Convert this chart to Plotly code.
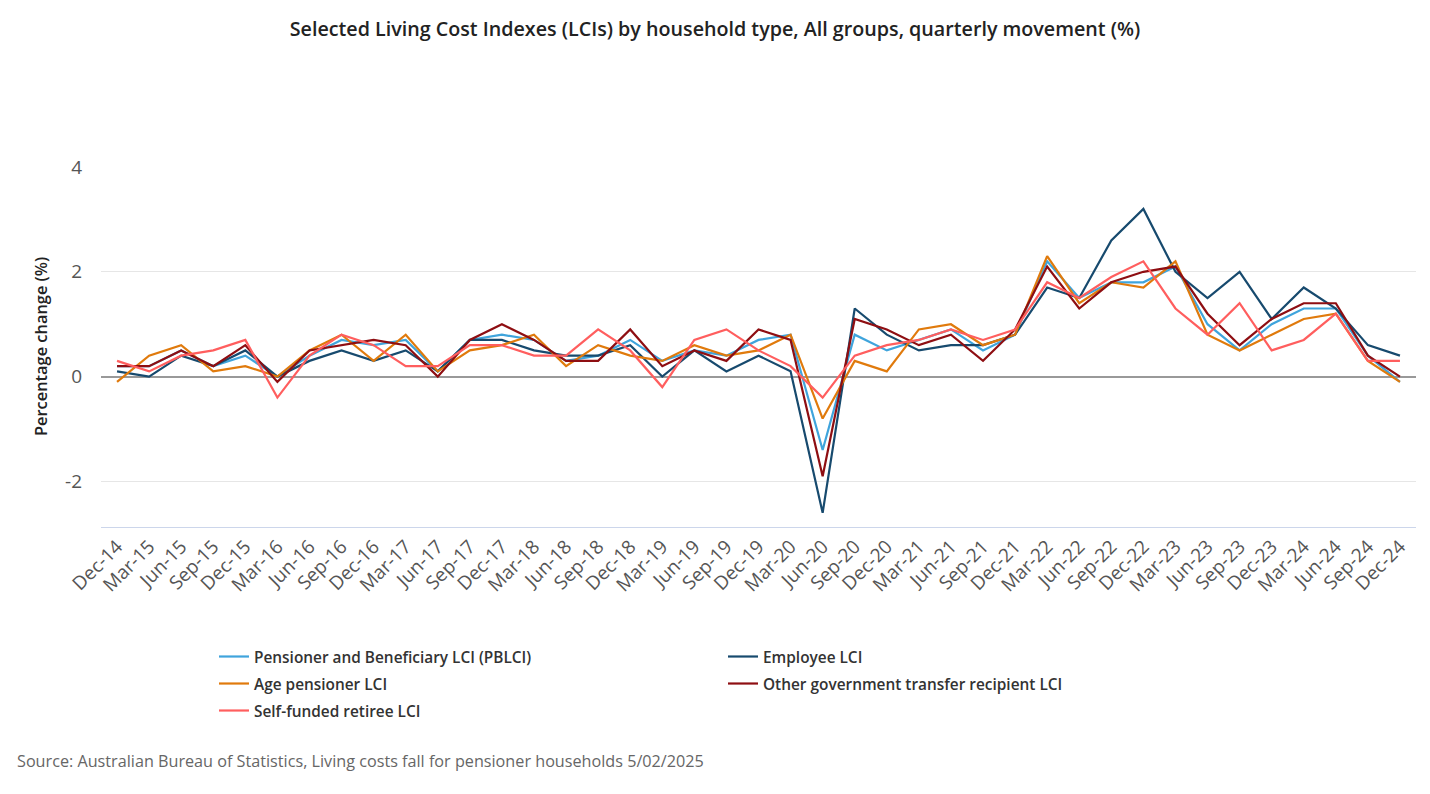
import plotly.graph_objects as go

quarters = ["Dec-14","Mar-15","Jun-15","Sep-15","Dec-15","Mar-16","Jun-16","Sep-16","Dec-16","Mar-17",
            "Jun-17","Sep-17","Dec-17","Mar-18","Jun-18","Sep-18","Dec-18","Mar-19","Jun-19","Sep-19",
            "Dec-19","Mar-20","Jun-20","Sep-20","Dec-20","Mar-21","Jun-21","Sep-21","Dec-21","Mar-22",
            "Jun-22","Sep-22","Dec-22","Mar-23","Jun-23","Sep-23","Dec-23","Mar-24","Jun-24","Sep-24","Dec-24"]

pblci = [0.2,0.2,0.5,0.2,0.4,0.0,0.4,0.7,0.6,0.7,
         0.1,0.7,0.8,0.7,0.3,0.4,0.7,0.3,0.5,0.4,
         0.7,0.8,-1.4,0.8,0.5,0.7,0.9,0.5,0.8,2.2,
         1.5,1.8,1.8,2.1,1.0,0.5,1.0,1.3,1.3,0.4,-0.1]
employee = [0.1,0.0,0.4,0.2,0.5,0.0,0.3,0.5,0.3,0.5,
            0.1,0.7,0.7,0.5,0.4,0.4,0.6,0.0,0.5,0.1,
            0.4,0.1,-2.6,1.3,0.8,0.5,0.6,0.6,0.8,1.7,
            1.5,2.6,3.2,2.0,1.5,2.0,1.1,1.7,1.3,0.6,0.4]
age_pensioner = [-0.1,0.4,0.6,0.1,0.2,0.0,0.5,0.8,0.3,0.8,
                 0.1,0.5,0.6,0.8,0.2,0.6,0.4,0.3,0.6,0.4,
                 0.5,0.8,-0.8,0.3,0.1,0.9,1.0,0.6,0.8,2.3,
                 1.4,1.8,1.7,2.2,0.8,0.5,0.8,1.1,1.2,0.3,-0.1]
other_gov = [0.2,0.2,0.5,0.2,0.6,-0.1,0.5,0.6,0.7,0.6,
             0.0,0.7,1.0,0.7,0.3,0.3,0.9,0.2,0.5,0.3,
             0.9,0.7,-1.9,1.1,0.9,0.6,0.8,0.3,0.9,2.1,
             1.3,1.8,2.0,2.1,1.2,0.6,1.1,1.4,1.4,0.4,0.0]
self_funded = [0.3,0.1,0.4,0.5,0.7,-0.4,0.4,0.8,0.6,0.2,
               0.2,0.6,0.6,0.4,0.4,0.9,0.5,-0.2,0.7,0.9,
               0.5,0.2,-0.4,0.4,0.6,0.7,0.9,0.7,0.9,1.8,
               1.5,1.9,2.2,1.3,0.8,1.4,0.5,0.7,1.2,0.3,0.3]

y_tickvals = [-2, 0, 2, 4]
y_ticktext = ["-2", "0", "2", "4"]

# (name, values, colour, legend row)
series = [
    ("Pensioner and Beneficiary LCI (PBLCI)", pblci, "#3FA4DC", "legend"),
    ("Employee LCI", employee, "#174A6E", "legend"),
    ("Age pensioner LCI", age_pensioner, "#E07A0C", "legend2"),
    ("Other government transfer recipient LCI", other_gov, "#8E0E12", "legend2"),
    ("Self-funded retiree LCI", self_funded, "#FF5E5E", "legend3"),
]

FONT = "Open Sans"
W, H = 1422, 786
ML, MR, MT, MB = 93, 14, 159, 267
PW, PH = W - ML - MR, H - MT - MB

fig = go.Figure()
for name, vals, color, lg in series:
    fig.add_trace(go.Scatter(x=quarters, y=vals, name=name, mode="lines", legend=lg,
                             line=dict(color=color, width=2.2)))

def legend_row(top_px):
    return dict(orientation="h", x=206 / W, xref="container", xanchor="left",
                y=1 - top_px / H, yref="container", yanchor="top",
                entrywidth=464, entrywidthmode="pixels",
                font=dict(family=FONT, size=15.4, color="#333333", weight=600),
                bgcolor="rgba(0,0,0,0)")

fig.update_layout(
    width=W, height=H,
    paper_bgcolor="white", plot_bgcolor="white",
    margin=dict(l=ML, r=MR, t=MT, b=MB),
    font=dict(family=FONT, color="#333333"),
    title=dict(text="Selected Living Cost Indexes (LCIs) by household type, All groups, quarterly movement (%)",
               x=0.5 - 4 / W, xanchor="center", y=1 - 21 / H, yanchor="middle", yref="container",
               font=dict(family=FONT, size=19.7, color="#222222", weight=600)),
    showlegend=True,
    legend=legend_row(632),
    legend2=legend_row(659),
    legend3=legend_row(686),
    annotations=[
        dict(text="Percentage change (%)", textangle=-90,
             xref="paper", yref="paper", x=(32 - ML) / PW, y=0.5,
             xanchor="center", yanchor="middle", showarrow=False,
             font=dict(family=FONT, size=16.4, color="#222222", weight=600)),
        dict(text="Source: Australian Bureau of Statistics, Living costs fall for pensioner households 5/02/2025",
             xref="paper", yref="paper", x=(7 - ML) / PW, y=-(753 - (H - MB)) / PH,
             xanchor="left", yanchor="middle", showarrow=False,
             font=dict(family=FONT, size=16.2, color="#666666")),
    ],
)
fig.update_xaxes(type="category", range=[-0.5, 40.5], tickangle=-45,
                 tickfont=dict(family=FONT, size=19, color="#555555"),
                 showgrid=False, showline=True, linecolor="#ccd6eb", linewidth=1,
                 ticks="", zeroline=False)
fig.update_yaxes(range=[-2.87, 4.0], tickvals=y_tickvals, ticktext=y_ticktext,
                 tickfont=dict(family=FONT, size=19, color="#555555"),
                 showgrid=True, gridcolor="#e6e6e6", gridwidth=1,
                 zeroline=True, zerolinecolor="#999999", zerolinewidth=2,
                 ticklabelstandoff=18)

fig.write_html("out.html")
